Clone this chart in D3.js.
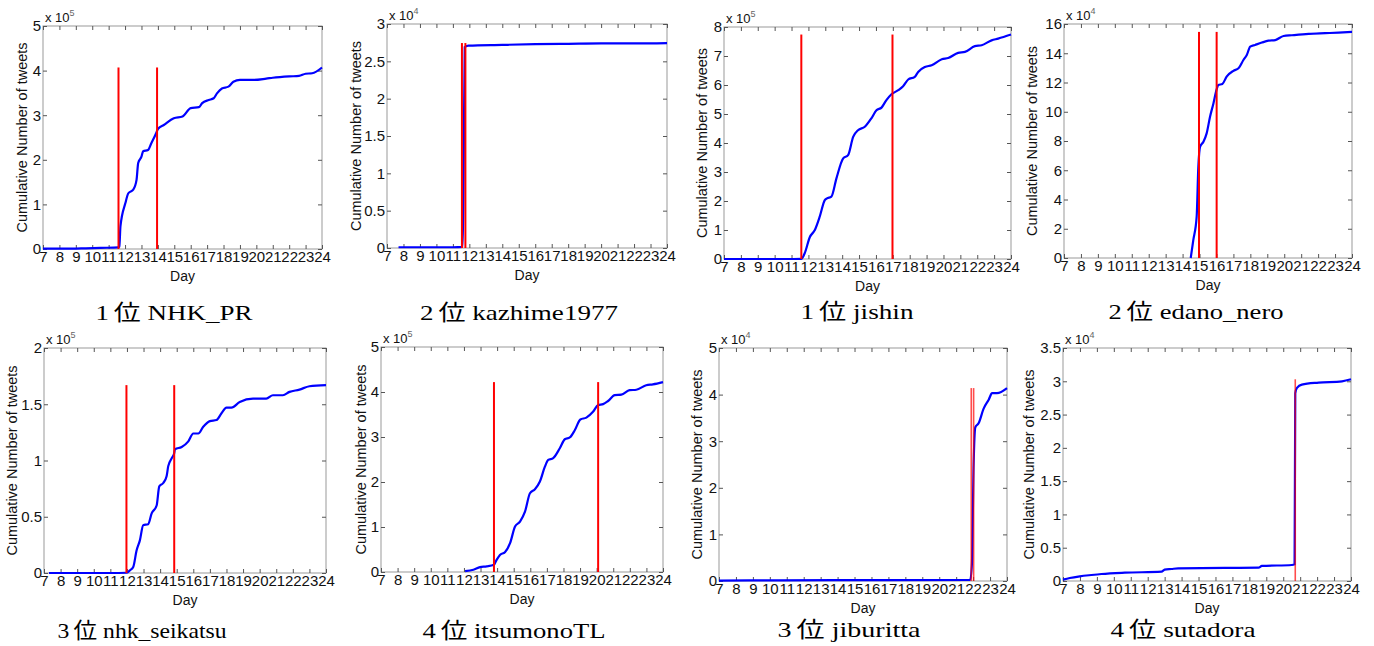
<!DOCTYPE html>
<html>
<head>
<meta charset="utf-8">
<style>
body { margin: 0; background: #fff; }
svg text { font-family: "Liberation Sans", Arial, sans-serif; fill: #111; }
.tick line { stroke: #555; }
svg text.caption { font-family: "Liberation Serif", "Noto Sans CJK JP", serif; font-size: 22px; fill: #000; }
</style>
</head>
<body>
<svg id="container" width="1374" height="646"></svg>
<script src="https://cdn.jsdelivr.net/npm/d3@7/dist/d3.min.js"></script>
<script>
// 日付の目盛り
var dayTicks = d3.range(7, 25);

// 1位 NHK_PR
var nhkPrDays   = [7, 8, 9, 9.5, 10.5, 11.6, 11.65, 11.72, 12.02, 12.2, 12.5, 12.7, 12.8, 13.0, 13.1, 13.4, 13.6, 13.9, 14.0, 14.36, 14.97, 15.5, 16.0, 16.5, 16.7, 17.1, 17.4, 17.6, 17.9, 18.3, 18.6, 19.0, 19.8, 20.6, 21.0, 22.0, 22.6, 23.0, 23.4, 24];
var nhkPrTweets = [1000, 1000, 1000, 1500, 2500, 3500, 5000, 51000, 103000, 125000, 133000, 155000, 193000, 207000, 219000, 222000, 237000, 260000, 269000, 278000, 293000, 297000, 316000, 318000, 327000, 334000, 338000, 349000, 360000, 364000, 375000, 379000, 379000, 382000, 384000, 387000, 388000, 393000, 394000, 407000];
var nhkPrMarks  = [11.6, 13.95];

// 2位 kazhime1977
var kazhimeDays   = [7.7, 9, 10, 11, 11.6, 11.66, 11.72, 11.95, 14, 16, 18, 20, 22, 24];
var kazhimeTweets = [100, 100, 100, 100, 150, 12000, 26900, 27100, 27200, 27300, 27350, 27400, 27400, 27450];
var kazhimeMarks  = [11.55, 11.76];

// 1位 jishin
var jishinDays   = [7, 9, 11, 11.58, 11.78, 12.08, 12.38, 12.67, 12.97, 13.1, 13.36, 13.66, 14.06, 14.35, 14.65, 14.94, 15.34, 15.73, 16.03, 16.33, 16.62, 16.92, 17.32, 17.61, 17.91, 18.3, 18.5, 18.9, 19.3, 19.9, 20.28, 20.87, 21.27, 21.86, 22.26, 22.85, 23.24, 24];
var jishinTweets = [0, 0, 0, 200, 20000, 75000, 100000, 146000, 203000, 209000, 215000, 278000, 347000, 358000, 421000, 444000, 456000, 485000, 513000, 522000, 548000, 568000, 582000, 596000, 619000, 628000, 645000, 662000, 668000, 689000, 693000, 711000, 714000, 734000, 737000, 754000, 760000, 774000];
var jishinMarks  = [11.58, 16.98];

// 2位 edano_nero
var edanoDays   = [14.48, 14.63, 14.83, 14.93, 15.03, 15.23, 15.42, 15.62, 15.82, 16.01, 16.11, 16.35, 16.6, 17.0, 17.3, 17.59, 17.79, 17.99, 18.28, 18.68, 19.07, 19.47, 19.96, 20.45, 21.44, 22.42, 23.21, 24];
var edanoTweets = [0, 12100, 28100, 62300, 76000, 79500, 85200, 96600, 105700, 115300, 118300, 119000, 124000, 128000, 129700, 135400, 138800, 144500, 145700, 147300, 148600, 149000, 151800, 152300, 153200, 153700, 154100, 154600];
var edanoMarks  = [14.97, 16.01];

// 3位 nhk_seikatsu
var seikatsuDays   = [7.3, 9, 11, 11.97, 12.18, 12.38, 12.58, 12.78, 12.98, 13.28, 13.49, 13.79, 13.95, 14.19, 14.39, 14.49, 14.7, 14.84, 14.9, 15.3, 15.7, 16.0, 16.3, 16.6, 17.0, 17.4, 17.7, 18.0, 18.3, 18.8, 19.6, 20.4, 20.8, 21.4, 21.8, 22.4, 23.0, 24];
var seikatsuTweets = [0, 0, 0, 200, 2400, 5300, 20000, 29000, 42500, 43400, 53000, 60000, 77000, 80000, 86000, 95000, 102000, 106000, 110000, 112000, 117000, 124000, 124000, 130000, 135000, 136000, 142000, 147000, 147000, 152000, 155000, 155000, 158000, 158000, 161000, 163000, 166000, 167000];
var seikatsuMarks  = [11.97, 14.85];

// 4位 itsumonoTL
var itsumonoDays   = [12.07, 12.57, 12.97, 13.37, 13.81, 13.97, 14.17, 14.47, 14.78, 15.08, 15.38, 15.68, 15.98, 16.28, 16.58, 16.88, 17.08, 17.38, 17.78, 18.08, 18.38, 18.68, 19.02, 19.38, 19.78, 20.09, 20.39, 20.69, 21.09, 21.49, 21.99, 22.39, 22.99, 23.39, 24];
var itsumonoTweets = [2000, 5000, 11000, 12500, 16000, 27000, 38000, 44000, 64000, 101000, 112000, 134000, 175000, 184000, 201000, 234000, 249000, 253000, 275000, 295000, 299000, 315000, 339000, 343000, 356000, 371000, 373000, 380000, 393000, 394000, 404000, 405000, 415000, 417000, 422000];
var itsumonoMarks  = [13.81, 20.09];

// 3位 jiburitta
var jiburittaDays   = [7, 10.5, 16, 21.83, 21.93, 22.03, 22.13, 22.33, 22.62, 22.92, 23.12, 23.41, 24];
var jiburittaTweets = [100, 150, 200, 250, 3700, 25000, 33000, 33900, 37000, 38900, 40300, 40300, 41400];
var jiburittaMarks  = [21.89, 22.03];

// 4位 sutadora
var sutadoraDays   = [7, 7.4, 7.99, 8.68, 9.27, 10.65, 12.82, 13.0, 13.4, 13.8, 16.57, 18.54, 18.74, 20.51, 20.67, 20.71, 20.81, 21.1, 22.09, 23.47, 24];
var sutadoraTweets = [200, 450, 700, 900, 1050, 1250, 1400, 1700, 1800, 1900, 1960, 2000, 2260, 2400, 2500, 28200, 29000, 29500, 29800, 30000, 30300];
var sutadoraMarks  = [20.71];

var svg = d3.select("#container");

// 各パネルの配置 box:[left,right,top,bottom] cap:[中心x,ベースライン,幅]
var panels = [
  {rank:"1", user:"NHK_PR",       days:nhkPrDays,     tweets:nhkPrTweets,     marks:nhkPrMarks,     yMax:5e5,   yStep:1e5,   exp:5, box:[43,322,26,249],    cap:[174,320,157], yl:21, faint:false},
  {rank:"2", user:"kazhime1977",  days:kazhimeDays,   tweets:kazhimeTweets,   marks:kazhimeMarks,   yMax:3e4,   yStep:0.5e4, exp:4, box:[387,667,24,248],   cap:[519,320,198], yl:31, faint:false},
  {rank:"1", user:"jishin",       days:jishinDays,    tweets:jishinTweets,    marks:jishinMarks,    yMax:8e5,   yStep:1e5,   exp:5, box:[724,1011,27,259],  cap:[857,319,113], yl:22, faint:false},
  {rank:"2", user:"edano_nero",   days:edanoDays,     tweets:edanoTweets,     marks:edanoMarks,     yMax:16e4,  yStep:2e4,   exp:4, box:[1064,1352,24,258], cap:[1196,319,175], yl:32, faint:false},
  {rank:"3", user:"nhk_seikatsu", days:seikatsuDays,  tweets:seikatsuTweets,  marks:seikatsuMarks,  yMax:2e5,   yStep:0.5e5, exp:5, box:[44,326,348,573],   cap:[142,638,169], yl:32, faint:false},
  {rank:"4", user:"itsumonoTL",   days:itsumonoDays,  tweets:itsumonoTweets,  marks:itsumonoMarks,  yMax:5e5,   yStep:1e5,   exp:5, box:[381,663,347,572],  cap:[514,638,183], yl:20, faint:false},
  {rank:"3", user:"jiburitta",    days:jiburittaDays, tweets:jiburittaTweets, marks:jiburittaMarks, yMax:5e4,   yStep:1e4,   exp:4, box:[719,1007,348,581], cap:[849,637,143], yl:22, faint:true},
  {rank:"4", user:"sutadora",     days:sutadoraDays,  tweets:sutadoraTweets,  marks:sutadoraMarks,  yMax:3.5e4, yStep:0.5e4, exp:4, box:[1063,1351,348,581],cap:[1183,637,145], yl:34, faint:true}
];

panels.forEach(function(p){
  var L = p.box[0], R = p.box[1], T = p.box[2], B = p.box[3];
  var x = d3.scaleLinear().domain([7, 24]).range([L, R]);
  var y = d3.scaleLinear().domain([0, p.yMax]).range([B, T]);
  var yTicks = d3.range(0, p.yMax + p.yStep / 2, p.yStep);
  var fmt = function(v){ return String(Math.round(v / Math.pow(10, p.exp) * 10) / 10); };
  var g = svg.append("g");

  //枠
  g.append("rect").attr("x", L).attr("y", T).attr("width", R - L).attr("height", B - T)
   .attr("fill", "none").attr("stroke", "#999").attr("stroke-width", 1);

  //軸（目盛りは内向き）
  var xb = g.append("g").attr("transform", "translate(0," + B + ")")
    .call(d3.axisBottom(x).tickValues(dayTicks).tickSize(-4).tickPadding(2).tickFormat(d3.format("d")));
  g.append("g").attr("transform", "translate(0," + T + ")")
    .call(d3.axisTop(x).tickValues(dayTicks).tickSize(-4).tickFormat(""));
  var yl = g.append("g").attr("transform", "translate(" + L + ",0)")
    .call(d3.axisLeft(y).tickValues(yTicks).tickSize(-4).tickPadding(2).tickFormat(fmt));
  g.append("g").attr("transform", "translate(" + R + ",0)")
    .call(d3.axisRight(y).tickValues(yTicks).tickSize(-4).tickFormat(""));
  g.selectAll(".domain").remove();
  xb.selectAll("text").attr("font-size", 15).attr("fill", "#111");
  yl.selectAll("text").attr("font-size", 15).attr("fill", "#111");

  //累積ツイート数
  var line = d3.line().x(function(d, i){ return x(p.days[i]); }).y(function(d){ return y(d); })
    .curve(d3.curveMonotoneX);
  g.append("path").datum(p.tweets).attr("d", line)
   .attr("fill", "none").attr("stroke", "#0000ff").attr("stroke-width", 2.2);

  //赤い縦線
  var top = d3.max(p.tweets);
  g.selectAll(".mark").data(p.marks).enter().append("line")
   .attr("x1", function(d){ return x(d); }).attr("x2", function(d){ return x(d); })
   .attr("y1", y(0)).attr("y2", y(top))
   .attr("stroke", "#ff0000").attr("stroke-width", p.faint ? 1.6 : 2)
   .attr("stroke-opacity", p.faint ? 0.7 : 1);

  //ラベル
  g.append("text").attr("x", (L + R) / 2).attr("y", B + 32).attr("text-anchor", "middle")
   .attr("font-size", 14).attr("fill", "#222").text("Day");
  g.append("text").attr("transform", "translate(" + (L - p.yl) + "," + ((T + B) / 2) + ") rotate(-90)")
   .attr("text-anchor", "middle").attr("dy", "0.35em").attr("font-size", 14.5).attr("fill", "#222")
   .text("Cumulative Number of tweets");
  var ex = g.append("text").attr("x", L + 2).attr("y", T - 4).attr("font-size", 13).attr("fill", "#333");
  ex.append("tspan").text("x 10");
  ex.append("tspan").attr("dy", -6).attr("font-size", 9).attr("fill", "#666").text(p.exp);

  //タイトル
  var cap = g.append("text").attr("class", "caption").attr("x", p.cap[0]).attr("y", p.cap[1])
   .attr("text-anchor", "middle").attr("textLength", p.cap[2]).attr("lengthAdjust", "spacingAndGlyphs");
  cap.append("tspan").text(p.rank);
  cap.append("tspan").attr("dx", 4).text("位 " + p.user);
});
</script>
</body>
</html>
